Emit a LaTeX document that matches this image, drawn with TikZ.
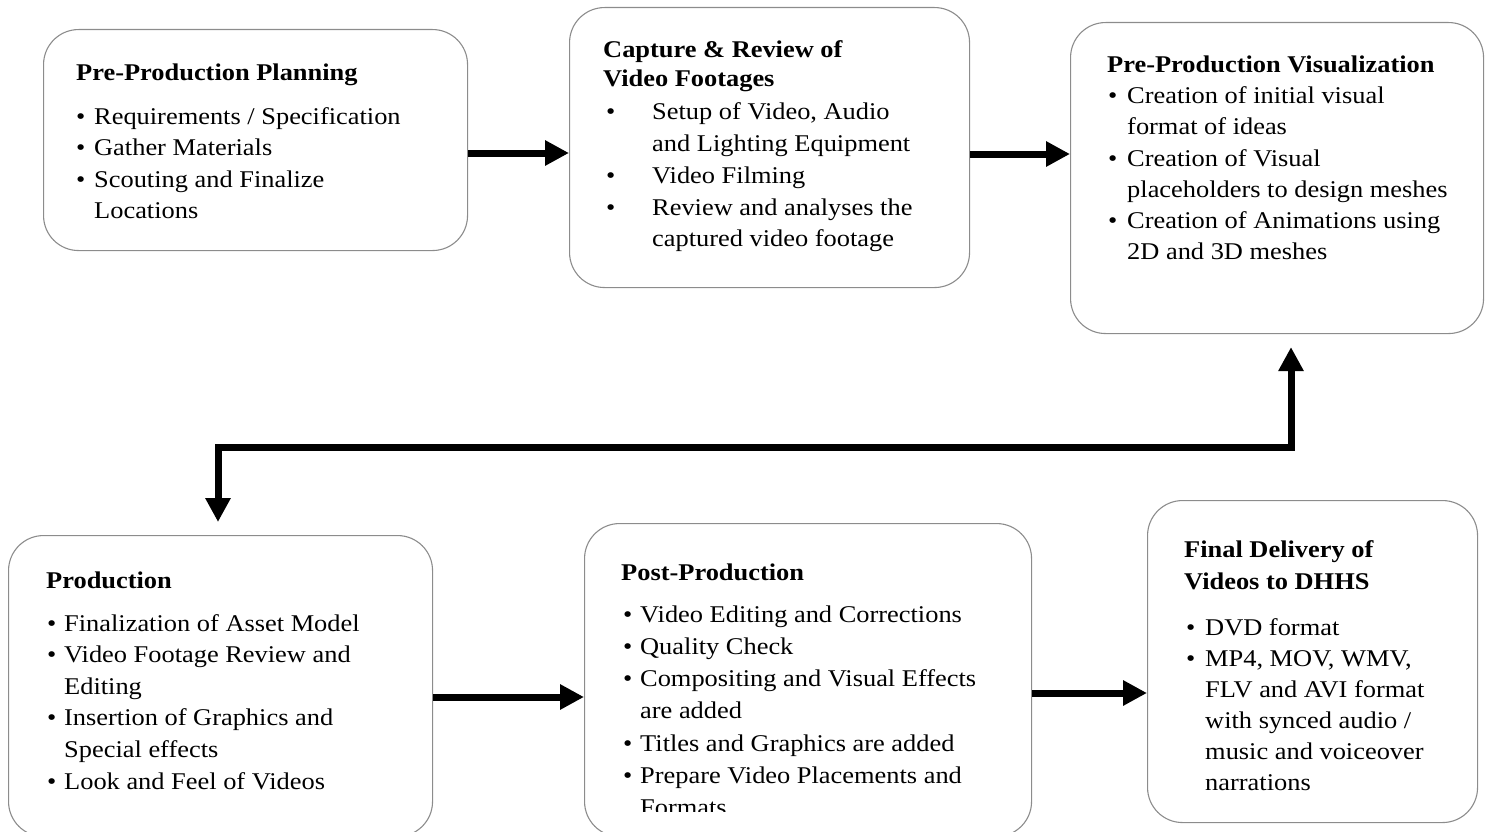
\documentclass[tikz,border=0pt]{standalone}
\usepackage{fontspec}
\setmainfont{Liberation Serif}[FakeStretch=1.1]
\usetikzlibrary{arrows.meta}
\newcommand{\bu}[1]{\makebox[#1][l]{\textbullet}}
\begin{document}
\begin{tikzpicture}[x=1pt,y=-1pt,
  stage/.style={draw=black!45, line width=1.1pt, rounded corners=35pt, inner sep=0pt, anchor=north west},
  txt/.style={anchor=base west, inner sep=0pt, font=\fontsize{24}{31.5}\selectfont},
  flow/.style={line width=7pt, -{Triangle[length=24pt,width=24pt]}},
  loop/.style={line width=7pt, {Triangle[length=24pt,width=24pt]}-{Triangle[length=24pt,width=24pt]}, shorten <=13pt, shorten >=13pt},
]
\useasboundingbox (0,0) rectangle (1485,832);

% boxes
\node[stage, minimum width=424pt, minimum height=221pt] (b1) at (43,29) {};
\node[stage, minimum width=400pt, minimum height=280pt] (b2) at (569,7) {};
\node[stage, minimum width=413pt, minimum height=311pt] (b3) at (1070,22) {};
\node[stage, minimum width=424pt, minimum height=301pt] (b4) at (8,535) {};
\node[stage, minimum width=447pt, minimum height=313pt] (b5) at (584,523) {};
\node[stage, minimum width=330pt, minimum height=322pt] (b6) at (1147,500) {};

% texts
\node[txt] (t1) at (76,81) {\parbox[t]{390pt}{\fontsize{24}{31.5}\selectfont
\textbf{Pre-Production Planning}\\[12pt]
\bu{18pt}Requirements / Specification\\
\bu{18pt}Gather Materials\\
\bu{18pt}Scouting and Finalize\\
\hspace*{18pt}Locations}};

\node[txt] (t2) at (603,58) {\parbox[t]{380pt}{\fontsize{24}{31.75}\selectfont
\textbf{Capture \& Review of}\\[-2.75pt]
\textbf{Video Footages}\\[1.25pt]
\hspace*{3pt}\bu{46pt}Setup of Video, Audio\\
\hspace*{49pt}and Lighting Equipment\\
\hspace*{3pt}\bu{46pt}Video Filming\\
\hspace*{3pt}\bu{46pt}Review and analyses the\\
\hspace*{49pt}captured video footage}};

\node[txt] (t3) at (1107,73) {\parbox[t]{380pt}{\fontsize{24}{30.8}\selectfont
\textbf{Pre-Production Visualization}\\
\hspace*{1pt}\bu{19pt}Creation of initial visual\\
\hspace*{20pt}format of ideas\\[1.5pt]
\hspace*{1pt}\bu{19pt}Creation of Visual\\
\hspace*{20pt}placeholders to design meshes\\
\hspace*{1pt}\bu{19pt}Creation of Animations using\\
\hspace*{20pt}2D and 3D meshes}};

\node[txt] (t4) at (46,588) {\parbox[t]{380pt}{\fontsize{24}{31.6}\selectfont
\textbf{Production}\\[11.4pt]
\hspace*{1pt}\bu{17pt}Finalization of Asset Model\\
\hspace*{1pt}\bu{17pt}Video Footage Review and\\
\hspace*{18pt}Editing\\
\hspace*{1pt}\bu{17pt}Insertion of Graphics and\\
\hspace*{18pt}Special effects\\
\hspace*{1pt}\bu{17pt}Look and Feel of Videos}};

\begin{scope}
\clip (584,523) rectangle (1031,811);
\node[txt] (t5) at (621,580) {\parbox[t]{400pt}{\fontsize{24}{32.3}\selectfont
\textbf{Post-Production}\\[9.7pt]
\hspace*{2pt}\bu{17pt}Video Editing and Corrections\\
\hspace*{2pt}\bu{17pt}Quality Check\\
\hspace*{2pt}\bu{17pt}Compositing and Visual Effects\\
\hspace*{19pt}are added\\
\hspace*{2pt}\bu{17pt}Titles and Graphics are added\\
\hspace*{2pt}\bu{17pt}Prepare Video Placements and\\
\hspace*{19pt}Formats}};
\end{scope}

\node[txt] (t6) at (1184,557) {\parbox[t]{285pt}{\fontsize{24}{31}\selectfont
\textbf{Final Delivery of}\\[1pt]
\textbf{Videos to DHHS}\\[15pt]
\hspace*{2pt}\bu{19pt}DVD format\\
\hspace*{2pt}\bu{19pt}MP4, MOV, WMV,\\
\hspace*{21pt}FLV and AVI format\\
\hspace*{21pt}with synced audio /\\
\hspace*{21pt}music and voiceover\\
\hspace*{21pt}narrations}};

% connectors
\draw[flow] (b1.east |- 0,153) -- (b2.west |- 0,153);
\draw[flow] (b2.east |- 0,154) -- (b3.west |- 0,154);
\draw[loop] (b3.south -| 1291,0) -- (1291,447) -| (b4.north -| 218,0);
\draw[flow] (b4.east |- 0,697) -- (b5.west |- 0,697);
\draw[flow] (b5.east |- 0,693) -- (b6.west |- 0,693);
\end{tikzpicture}
\end{document}
